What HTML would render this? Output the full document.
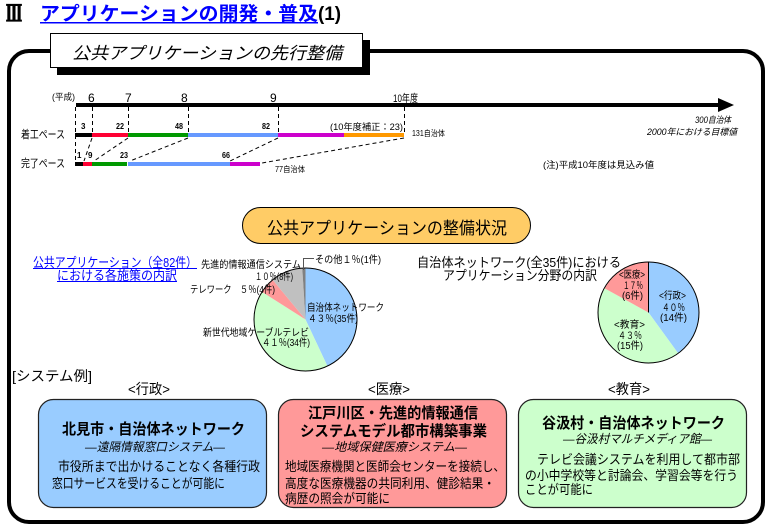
<!DOCTYPE html>
<html><head><meta charset="utf-8">
<style>
html,body{margin:0;padding:0;background:#fff;}
svg{display:block;}
text{font-family:"Liberation Sans","Noto Sans CJK JP",sans-serif;fill:#000;}
</style></head><body>
<svg width="773" height="532" viewBox="0 0 773 532" xmlns="http://www.w3.org/2000/svg">
<rect width="773" height="532" fill="#fff"/>

<!-- Title -->
<text x="6" y="21" font-size="22" font-weight="bold" stroke="#000" stroke-width="1.2" style="font-family:'Liberation Serif','Noto Serif CJK SC',serif" textLength="16" lengthAdjust="spacingAndGlyphs">Ⅲ</text>
<text x="40" y="20" font-size="19" font-weight="bold" style="fill:#0000ff" textLength="278" lengthAdjust="spacingAndGlyphs">アプリケーションの開発・普及</text>
<rect x="40" y="22" width="278" height="1.5" fill="#0000ff"/>
<text x="318" y="20" font-size="19" font-weight="bold" textLength="23" lengthAdjust="spacingAndGlyphs">(1)</text>

<!-- Frame -->
<rect x="9" y="51" width="754" height="471" rx="20" ry="20" fill="none" stroke="#000" stroke-width="4"/>

<!-- Header box -->
<rect x="57" y="40" width="313" height="35" fill="#000"/>
<rect x="50.5" y="33.5" width="312" height="34" fill="#fff" stroke="#000" stroke-width="1"/>
<text x="72" y="59" font-size="17" font-style="italic" textLength="270" lengthAdjust="spacingAndGlyphs">公共アプリケーションの先行整備</text>

<!-- Timeline -->
<text x="52" y="100" font-size="9" textLength="23" lengthAdjust="spacingAndGlyphs">(平成)</text>
<text x="88" y="102" font-size="12">6</text>
<text x="125" y="102" font-size="12">7</text>
<text x="181" y="102" font-size="12">8</text>
<text x="270" y="102" font-size="12">9</text>
<text x="393" y="102" font-size="11" textLength="25" lengthAdjust="spacingAndGlyphs">10年度</text>

<rect x="76" y="103" width="644" height="4" fill="#000"/>
<polygon points="718,98 734,105 718,112" fill="#000"/>

<g stroke="#000" stroke-width="1" stroke-dasharray="4,3" fill="none">
  <line x1="75.5" y1="107" x2="75.5" y2="162"/>
  <line x1="92.5" y1="107" x2="92.5" y2="133"/>
  <line x1="128.5" y1="107" x2="128.5" y2="133"/>
  <line x1="188.5" y1="107" x2="188.5" y2="133"/>
  <line x1="278.5" y1="107" x2="278.5" y2="133"/>
  <line x1="404.5" y1="107" x2="404.5" y2="133"/>
  <line x1="92" y1="138" x2="84" y2="161"/>
  <line x1="128" y1="138" x2="94" y2="161"/>
  <line x1="188" y1="138" x2="130" y2="161"/>
  <line x1="278" y1="138" x2="230" y2="161"/>
  <line x1="404" y1="138" x2="262" y2="163"/>
</g>

<text x="21" y="138" font-size="11" textLength="44" lengthAdjust="spacingAndGlyphs">着工ペース</text>
<text x="21" y="167" font-size="11" textLength="44" lengthAdjust="spacingAndGlyphs">完了ペース</text>

<!-- 着工 bar -->
<rect x="75" y="133" width="17" height="4" fill="#000"/>
<rect x="92" y="133" width="36" height="4" fill="#ff0033"/>
<rect x="128" y="133" width="60" height="4" fill="#009900"/>
<rect x="188" y="133" width="90" height="4" fill="#6699ff"/>
<rect x="278" y="133" width="66" height="4" fill="#cc00cc"/>
<rect x="344" y="133" width="60" height="4" fill="#ff9900"/>

<!-- 完了 bar -->
<rect x="75" y="162" width="8" height="4" fill="#000"/>
<rect x="83" y="162" width="9" height="4" fill="#ff0033"/>
<rect x="92" y="162" width="35" height="4" fill="#009900"/>
<rect x="128" y="162" width="102" height="4" fill="#6699ff"/>
<rect x="230" y="162" width="30" height="4" fill="#cc00cc"/>

<g font-size="8" font-weight="bold">
  <text x="81" y="129">3</text>
  <text x="116" y="129" textLength="8" lengthAdjust="spacingAndGlyphs">22</text>
  <text x="175" y="129" textLength="8" lengthAdjust="spacingAndGlyphs">48</text>
  <text x="262" y="129" textLength="8" lengthAdjust="spacingAndGlyphs">82</text>
  <text x="77" y="158">1</text>
  <text x="88" y="158">9</text>
  <text x="120" y="158" textLength="8" lengthAdjust="spacingAndGlyphs">23</text>
  <text x="222" y="158" textLength="8" lengthAdjust="spacingAndGlyphs">66</text>
</g>
<text x="330" y="130" font-size="9" textLength="73" lengthAdjust="spacingAndGlyphs">(10年度補正：23)</text>
<text x="412" y="136" font-size="8" textLength="33" lengthAdjust="spacingAndGlyphs">131自治体</text>
<text x="275" y="172" font-size="8" textLength="30" lengthAdjust="spacingAndGlyphs">77自治体</text>
<text x="695" y="123" font-size="9" font-style="italic" textLength="36" lengthAdjust="spacingAndGlyphs">300自治体</text>
<text x="647" y="135" font-size="9" font-style="italic" textLength="90" lengthAdjust="spacingAndGlyphs">2000年における目標値</text>
<text x="543" y="168" font-size="9" textLength="111" lengthAdjust="spacingAndGlyphs">(注)平成10年度は見込み値</text>

<!-- Pill -->
<rect x="242.5" y="207.5" width="288" height="36" rx="18" ry="18" fill="#ffcc66" stroke="#000" stroke-width="1"/>
<text x="267" y="234" font-size="17" textLength="240" lengthAdjust="spacingAndGlyphs">公共アプリケーションの整備状況</text>

<!-- Left caption -->
<text x="33" y="267" font-size="13" style="fill:#0000ff" textLength="164" lengthAdjust="spacingAndGlyphs">公共アプリケーション（全82件）</text>
<rect x="33" y="268" width="164" height="1" fill="#0000ff"/>
<text x="57" y="280" font-size="13" style="fill:#0000ff" textLength="120" lengthAdjust="spacingAndGlyphs">における各施策の内訳</text>
<rect x="57" y="281" width="120" height="1" fill="#0000ff"/>

<!-- Pie 1 -->
<path d="M305.5,319.5 L305.5,268 A51.5,51.5 0 0 1 327.43,366.1 Z" fill="#99ccff"/>
<path d="M305.5,319.5 L327.43,366.1 A51.5,51.5 0 0 1 262.02,291.91 Z" fill="#ccffcc"/>
<path d="M305.5,319.5 L262.02,291.91 A51.5,51.5 0 0 1 272.67,279.82 Z" fill="#ff9999"/>
<path d="M305.5,319.5 L272.67,279.82 A51.5,51.5 0 0 1 302.27,268.1 Z" fill="#c0c0c0"/>
<path d="M305.5,319.5 L302.27,268.1 A51.5,51.5 0 0 1 305.5,268 Z" fill="#808080"/>
<circle cx="305.5" cy="319.5" r="51.5" fill="none" stroke="#000" stroke-width="1"/>
<polyline points="303.5,270 303.5,258.5 314,258.5" fill="none" stroke="#555" stroke-width="1"/>

<g font-size="10">
  <text x="201" y="268" textLength="100" lengthAdjust="spacingAndGlyphs">先進的情報通信システム</text>
  <text x="255" y="280" textLength="38" lengthAdjust="spacingAndGlyphs">１０％(8件)</text>
  <text x="190" y="293" textLength="85" lengthAdjust="spacingAndGlyphs">テレワーク　５％(4件)</text>
  <text x="315" y="263" textLength="66" lengthAdjust="spacingAndGlyphs">その他１％(1件)</text>
  <text x="307" y="311" textLength="77" lengthAdjust="spacingAndGlyphs">自治体ネットワーク</text>
  <text x="308" y="322" textLength="50" lengthAdjust="spacingAndGlyphs">４３％(35件)</text>
  <text x="203" y="336" textLength="106" lengthAdjust="spacingAndGlyphs">新世代地域ケーブルテレビ</text>
  <text x="262" y="346" textLength="48" lengthAdjust="spacingAndGlyphs">４１％(34件)</text>
</g>

<!-- Right caption -->
<text x="417" y="267" font-size="13" textLength="204" lengthAdjust="spacingAndGlyphs">自治体ネットワーク(全35件)における</text>
<text x="443" y="280" font-size="13" textLength="154" lengthAdjust="spacingAndGlyphs">アプリケーション分野の内訳</text>

<!-- Pie 2 -->
<path d="M648.5,312.5 L648.5,262 A50.5,50.5 0 0 1 678.18,353.36 Z" fill="#99ccff"/>
<path d="M648.5,312.5 L678.18,353.36 A50.5,50.5 0 0 1 604.25,288.17 Z" fill="#ccffcc"/>
<path d="M648.5,312.5 L604.25,288.17 A50.5,50.5 0 0 1 648.5,262 Z" fill="#ff9999"/>
<circle cx="648.5" cy="312.5" r="50.5" fill="none" stroke="#000" stroke-width="1"/>
<line x1="648.5" y1="262" x2="648.5" y2="312.5" stroke="#000" stroke-width="1"/>

<g font-size="10">
  <text x="619" y="278" textLength="26" lengthAdjust="spacingAndGlyphs">&lt;医療&gt;</text>
  <text x="623" y="289" textLength="20" lengthAdjust="spacingAndGlyphs">１７％</text>
  <text x="622" y="299" textLength="21" lengthAdjust="spacingAndGlyphs">(6件)</text>
  <text x="659" y="299" textLength="27" lengthAdjust="spacingAndGlyphs">&lt;行政&gt;</text>
  <text x="662" y="311" textLength="23" lengthAdjust="spacingAndGlyphs">４０％</text>
  <text x="660" y="321" textLength="27" lengthAdjust="spacingAndGlyphs">(14件)</text>
  <text x="614" y="328" textLength="31" lengthAdjust="spacingAndGlyphs">&lt;教育&gt;</text>
  <text x="618" y="339" textLength="24" lengthAdjust="spacingAndGlyphs">４３％</text>
  <text x="617" y="349" textLength="26" lengthAdjust="spacingAndGlyphs">(15件)</text>
</g>

<!-- System examples -->
<text x="12" y="381" font-size="14" textLength="80" lengthAdjust="spacingAndGlyphs">[システム例]</text>
<text x="128" y="394" font-size="14" textLength="42" lengthAdjust="spacingAndGlyphs">&lt;行政&gt;</text>
<text x="368" y="394" font-size="14" textLength="42" lengthAdjust="spacingAndGlyphs">&lt;医療&gt;</text>
<text x="608" y="394" font-size="14" textLength="42" lengthAdjust="spacingAndGlyphs">&lt;教育&gt;</text>

<!-- Box 1 -->
<rect x="38.5" y="399.5" width="228" height="108" rx="15" ry="15" fill="#99ccff" stroke="#222" stroke-width="1.2"/>
<text x="62" y="434" font-size="15" font-weight="bold" textLength="183" lengthAdjust="spacingAndGlyphs">北見市・自治体ネットワーク</text>
<text x="85" y="451" font-size="12" font-style="italic" textLength="140" lengthAdjust="spacingAndGlyphs">―遠隔情報窓口システム―</text>
<text x="58" y="471" font-size="13" textLength="202" lengthAdjust="spacingAndGlyphs">市役所まで出かけることなく各種行政</text>
<text x="52" y="488" font-size="13" textLength="173" lengthAdjust="spacingAndGlyphs">窓口サービスを受けることが可能に</text>

<!-- Box 2 -->
<rect x="278.5" y="399.5" width="228" height="108" rx="15" ry="15" fill="#ff9999" stroke="#222" stroke-width="1.2"/>
<text x="308" y="418" font-size="15" font-weight="bold" textLength="170" lengthAdjust="spacingAndGlyphs">江戸川区・先進的情報通信</text>
<text x="300" y="436" font-size="15" font-weight="bold" textLength="187" lengthAdjust="spacingAndGlyphs">システムモデル都市構築事業</text>
<text x="322" y="451" font-size="12" font-style="italic" textLength="145" lengthAdjust="spacingAndGlyphs">―地域保健医療システム―</text>
<text x="285" y="471" font-size="13" textLength="220" lengthAdjust="spacingAndGlyphs">地域医療機関と医師会センターを接続し、</text>
<text x="285" y="488" font-size="13" textLength="210" lengthAdjust="spacingAndGlyphs">高度な医療機器の共同利用、健診結果・</text>
<text x="285" y="503" font-size="13" textLength="105" lengthAdjust="spacingAndGlyphs">病歴の照会が可能に</text>

<!-- Box 3 -->
<rect x="518.5" y="399.5" width="228" height="108" rx="15" ry="15" fill="#ccffcc" stroke="#222" stroke-width="1.2"/>
<text x="542" y="428" font-size="15" font-weight="bold" textLength="183" lengthAdjust="spacingAndGlyphs">谷汲村・自治体ネットワーク</text>
<text x="563" y="443" font-size="12" font-style="italic" textLength="149" lengthAdjust="spacingAndGlyphs">―谷汲村マルチメディア館―</text>
<text x="537" y="464" font-size="13" textLength="203" lengthAdjust="spacingAndGlyphs">テレビ会議システムを利用して都市部</text>
<text x="525" y="480" font-size="13" textLength="213" lengthAdjust="spacingAndGlyphs">の小中学校等と討論会、学習会等を行う</text>
<text x="525" y="494" font-size="13" textLength="68" lengthAdjust="spacingAndGlyphs">ことが可能に</text>

</svg>
</body></html>
